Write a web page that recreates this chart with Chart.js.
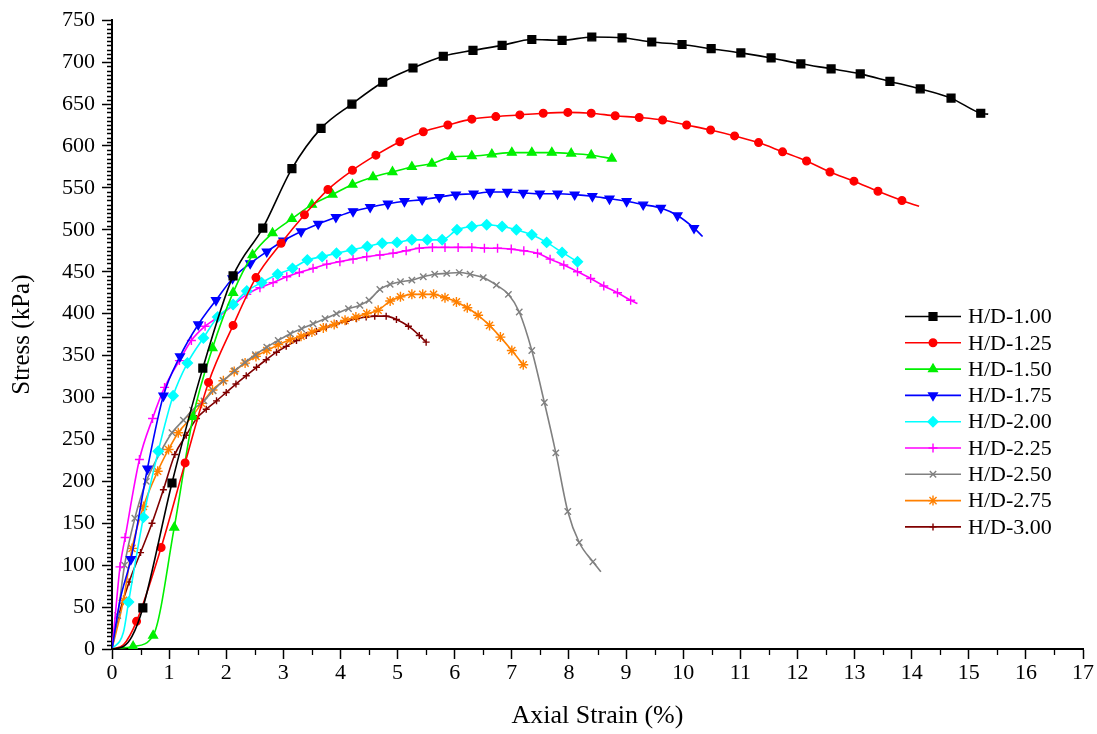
<!DOCTYPE html>
<html>
<head>
<meta charset="utf-8">
<title>Stress vs Axial Strain</title>
<script src="https://cdn.jsdelivr.net/npm/chart.js"></script>
<style>
  body { margin: 0; background: #fff; }
  canvas { display: block; }
</style>
</head>
<body>
<canvas id="myChart" width="1097" height="734"></canvas>
<script>
// values (strain in %, stress in kPa)
const labels = ["H/D-1.00", "H/D-1.25", "H/D-1.50", "H/D-1.75", "H/D-2.00", "H/D-2.25", "H/D-2.50", "H/D-2.75", "H/D-3.00"];

const strain100 = [0, 0.2, 0.35, 0.54, 1.05, 1.59, 2.12, 2.64, 3.15, 3.66, 4.2, 4.74, 5.27, 5.8, 6.32, 6.83, 7.35, 7.88, 8.4, 8.93, 9.45, 9.98, 10.49, 11.01, 11.54, 12.06, 12.59, 13.1, 13.62, 14.15, 14.69, 15.21, 15.34];
const stress100 = [0, 3, 15, 49, 198, 335, 445, 502, 573, 621, 650, 676, 693, 707, 714, 720, 727, 726, 730, 729, 724, 721, 716, 711, 705, 698, 692, 686, 677, 668, 657, 639, 638];

const strain125 = [0, 0.2, 0.43, 0.86, 1.28, 1.69, 2.12, 2.52, 2.96, 3.37, 3.78, 4.21, 4.62, 5.04, 5.45, 5.88, 6.3, 6.72, 7.14, 7.55, 7.98, 8.39, 8.81, 9.23, 9.64, 10.06, 10.48, 10.9, 11.32, 11.74, 12.16, 12.57, 12.99, 13.41, 13.83, 14.13];
const stress125 = [0, 5, 33, 121, 222, 318, 386, 443, 484, 518, 548, 571, 589, 605, 617, 625, 632, 635, 637, 639, 640, 639, 636, 634, 631, 625, 619, 612, 604, 593, 582, 569, 558, 546, 535, 528];

const strain150 = [0, 0.37, 0.72, 1.09, 1.42, 1.76, 2.12, 2.46, 2.81, 3.15, 3.5, 3.86, 4.21, 4.57, 4.91, 5.25, 5.6, 5.95, 6.3, 6.65, 7.0, 7.35, 7.7, 8.04, 8.39, 8.75];
const stress150 = [0, 3, 16, 145, 277, 359, 425, 470, 496, 513, 530, 542, 554, 563, 569, 575, 579, 587, 588, 590, 592, 592, 592, 591, 589, 585];

const strain175 = [0, 0.14, 0.33, 0.62, 0.9, 1.19, 1.51, 1.82, 2.11, 2.42, 2.71, 3.0, 3.31, 3.61, 3.92, 4.22, 4.52, 4.83, 5.12, 5.43, 5.73, 6.02, 6.33, 6.62, 6.92, 7.2, 7.49, 7.8, 8.1, 8.41, 8.71, 9.01, 9.3, 9.61, 9.9, 10.19, 10.34];
const stress175 = [0, 58, 107, 215, 302, 349, 387, 416, 442, 460, 474, 487, 498, 507, 515, 522, 527, 531, 534, 536, 539, 542, 543, 545, 545, 544, 543, 543, 542, 540, 537, 534, 530, 526, 517, 502, 492];

const strain200 = [0, 0.2, 0.29, 0.55, 0.81, 1.07, 1.32, 1.6, 1.85, 2.12, 2.36, 2.62, 2.9, 3.16, 3.42, 3.68, 3.93, 4.2, 4.47, 4.73, 4.99, 5.25, 5.52, 5.78, 6.04, 6.3, 6.56, 6.83, 7.08, 7.35, 7.61, 7.88, 8.15];
const stress200 = [0, 20, 56, 157, 236, 302, 341, 371, 396, 411, 427, 437, 447, 454, 464, 468, 472, 476, 480, 484, 485, 488, 488, 488, 500, 504, 506, 504, 500, 494, 485, 473, 462];

const strain225 = [0, 0.05, 0.14, 0.23, 0.48, 0.71, 0.92, 1.18, 1.39, 1.63, 1.86, 2.12, 2.36, 2.59, 2.82, 3.06, 3.28, 3.52, 3.76, 3.99, 4.22, 4.46, 4.69, 4.92, 5.15, 5.38, 5.61, 5.83, 6.06, 6.3, 6.52, 6.75, 6.99, 7.21, 7.45, 7.67, 7.91, 8.15, 8.38, 8.61, 8.85, 9.08, 9.2];
const stress225 = [0, 35, 98, 133, 226, 275, 312, 344, 368, 385, 396, 410, 423, 431, 437, 444, 449, 454, 459, 462, 465, 468, 470, 472, 475, 478, 479, 479, 479, 479, 478, 478, 477, 475, 472, 465, 458, 450, 442, 433, 425, 416, 412];

const strain250 = [0, 0.1, 0.22, 0.4, 0.6, 0.85, 1.05, 1.25, 1.41, 1.61, 1.77, 1.95, 2.15, 2.33, 2.51, 2.71, 2.91, 3.12, 3.32, 3.52, 3.73, 3.93, 4.14, 4.34, 4.5, 4.69, 4.87, 5.05, 5.25, 5.45, 5.65, 5.86, 6.08, 6.27, 6.5, 6.73, 6.94, 7.13, 7.35, 7.57, 7.77, 7.98, 8.18, 8.42, 8.56];
const stress250 = [0, 40, 100, 156, 200, 235, 258, 273, 285, 296, 308, 320, 332, 342, 351, 360, 368, 376, 382, 388, 394, 400, 406, 410, 416, 429, 435, 438, 440, 444, 447, 448, 449, 447, 443, 434, 423, 402, 356, 294, 234, 164, 127, 104, 92];

const strain275 = [0, 0.2, 0.35, 0.55, 0.8, 0.99, 1.16, 1.4, 1.57, 1.76, 1.95, 2.14, 2.33, 2.52, 2.71, 2.91, 3.12, 3.31, 3.5, 3.7, 3.89, 4.08, 4.27, 4.46, 4.66, 4.87, 5.05, 5.25, 5.44, 5.63, 5.83, 6.03, 6.22, 6.41, 6.61, 6.8, 7.0, 7.2];
const stress275 = [0, 58, 120, 170, 212, 238, 258, 277, 293, 309, 320, 331, 341, 349, 356, 363, 369, 373, 378, 383, 387, 392, 396, 400, 404, 415, 420, 423, 423, 423, 419, 414, 407, 398, 386, 372, 356, 339];

const strain300 = [0, 0.1, 0.3, 0.5, 0.7, 0.9, 1.1, 1.3, 1.48, 1.65, 1.83, 2.0, 2.17, 2.35, 2.53, 2.7, 2.88, 3.05, 3.23, 3.4, 3.58, 3.75, 3.93, 4.1, 4.28, 4.45, 4.6, 4.8, 4.98, 5.19, 5.38, 5.5];
const stress300 = [0, 35, 80, 115, 150, 190, 232, 255, 275, 286, 296, 306, 316, 326, 336, 345, 354, 361, 368, 374, 379, 384, 388, 391, 394, 396, 397, 397, 393, 385, 374, 366];

const xTicks = [0, 17, 1];
const yTicks = [0, 750, 50];

// styles: colour, marker, marker size, unmarked leading points, unmarked last point
const styles = [
  { color: "#000000", style: "rect", r: 5.5, rot: 0, lead: 3, tail: true },
  { color: "#ff0000", style: "circle", r: 3.8, rot: 0, lead: 2, tail: true },
  { color: "#00f000", style: "triangle", r: 5, rot: 0, lead: 1, tail: false },
  { color: "#0000ff", style: "triangle", r: 5, rot: 180, lead: 2, tail: true },
  { color: "#00ffff", style: "rectRot", r: 5, rot: 0, lead: 2, tail: false },
  { color: "#ff00ff", style: "cross", r: 4.5, rot: 0, lead: 2, tail: true },
  { color: "#808080", style: "crossRot", r: 4.5, rot: 0, lead: 1, tail: true },
  { color: "#ff8000", style: "star", r: 5, rot: 0, lead: 1, tail: false },
  { color: "#800000", style: "cross", r: 3.5, rot: 0, lead: 2, tail: false },
];

const xs = [strain100, strain125, strain150, strain175, strain200, strain225, strain250, strain275, strain300];
const ys = [stress100, stress125, stress150, stress175, stress200, stress225, stress250, stress275, stress300];

const serif = "'Liberation Serif', 'Times New Roman', serif";

const datasets = labels.map((label, k) => {
  const s = styles[k];
  const n = xs[k].length;
  return {
    label,
    data: xs[k].map((x, i) => ({ x, y: ys[k][i] })),
    borderColor: s.color,
    backgroundColor: s.color,
    borderWidth: 1.6,
    pointStyle: s.style,
    rotation: s.rot,
    pointBorderWidth: 1.4,
    pointRadius: (c) => (c.dataIndex < s.lead || (s.tail && c.dataIndex === n - 1) ? 0 : s.r),
    cubicInterpolationMode: "monotone",
    fill: false,
  };
});

// minor ticks (every 0.5 % and every 5 kPa) on the outside of the axes
const minorTicks = {
  id: "minorTicks",
  afterDraw(chart) {
    const { ctx, scales } = chart;
    const x = scales.x;
    const y = scales.y;
    ctx.save();
    ctx.strokeStyle = "#000";
    ctx.lineWidth = 1.3;
    ctx.beginPath();
    for (let v = 0; v <= yTicks[1]; v += 5) {
      if (v % yTicks[2] === 0) continue;
      const py = Math.round(y.getPixelForValue(v)) + 0.5;
      ctx.moveTo(x.left - 5, py);
      ctx.lineTo(x.left, py);
    }
    for (let v = 0.5; v < xTicks[1]; v += 1) {
      const px = Math.round(x.getPixelForValue(v)) + 0.5;
      ctx.moveTo(px, y.bottom);
      ctx.lineTo(px, y.bottom + 6);
    }
    ctx.stroke();
    ctx.restore();
  },
};

// legend inside the plot, right side
const legendBox = {
  id: "legendBox",
  afterDraw(chart) {
    const { ctx } = chart;
    ctx.save();
    ctx.font = "22px " + serif;
    ctx.textBaseline = "middle";
    ctx.textAlign = "left";
    for (let i = 0; i < labels.length; i++) {
      const s = styles[i];
      const yy = 316.5 + i * 26.3;
      ctx.strokeStyle = s.color;
      ctx.fillStyle = s.color;
      ctx.lineWidth = 1.6;
      ctx.beginPath();
      ctx.moveTo(905, yy);
      ctx.lineTo(961, yy);
      ctx.stroke();
      ctx.lineWidth = 1.4;
      Chart.helpers.drawPoint(ctx, { pointStyle: s.style, radius: s.r, rotation: s.rot, borderWidth: 1.4 }, 933, yy);
      ctx.fillStyle = "#000";
      ctx.fillText(labels[i], 968, yy + 1);
    }
    ctx.restore();
  },
};

const ctx = document.getElementById("myChart").getContext("2d");

const myChart = new Chart(ctx, {
  type: "line",
  data: { datasets },
  plugins: [minorTicks, legendBox],
  options: {
    responsive: false,
    animation: false,
    layout: { padding: { left: 0, right: 14, top: 19, bottom: 0 } },
    plugins: { legend: { display: false }, tooltip: { enabled: false } },
    scales: {
      x: {
        type: "linear",
        min: xTicks[0],
        max: xTicks[1],
        afterFit: (scale) => { scale.height = 85; },
        ticks: { stepSize: xTicks[2], color: "#000", font: { family: serif, size: 22 }, padding: 1, maxRotation: 0 },
        grid: { drawOnChartArea: false, tickLength: 10, tickColor: "#000", tickWidth: 1.5 },
        border: { color: "#000", width: 2 },
        title: { display: true, text: "Axial Strain (%)", color: "#000", font: { family: serif, size: 26 }, padding: { top: 0, bottom: 2 } },
      },
      y: {
        type: "linear",
        min: yTicks[0],
        max: yTicks[1],
        afterFit: (scale) => { scale.width = 112; },
        ticks: { stepSize: yTicks[2], color: "#000", font: { family: serif, size: 22 }, padding: 7 },
        grid: { drawOnChartArea: false, tickLength: 10, tickColor: "#000", tickWidth: 1.5 },
        border: { color: "#000", width: 2 },
        title: { display: true, text: "Stress (kPa)", color: "#000", font: { family: serif, size: 25 }, padding: { top: 7, bottom: 0 } },
      },
    },
  },
});
</script>
</body>
</html>
